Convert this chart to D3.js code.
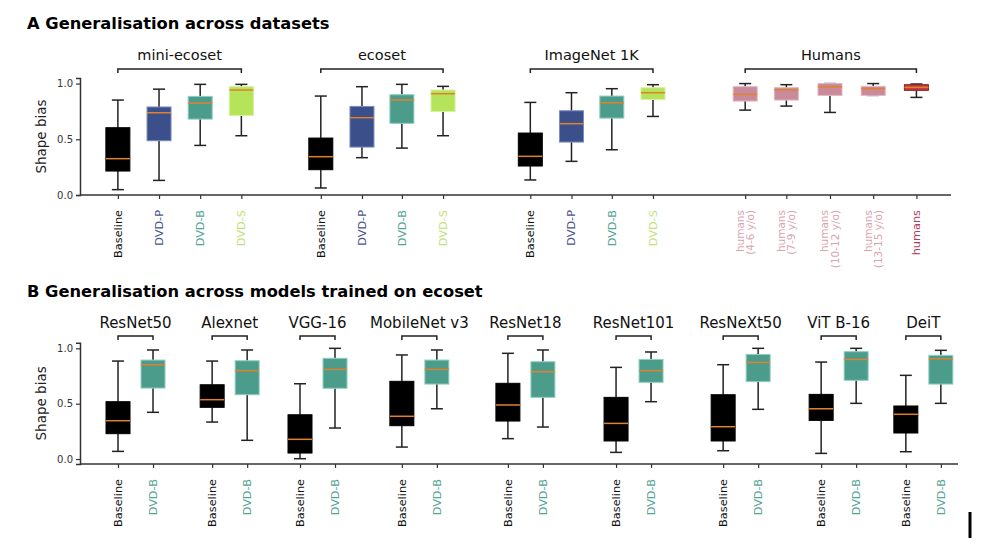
<!DOCTYPE html>
<html>
<head>
<meta charset="utf-8">
<script src="https://cdn.jsdelivr.net/npm/d3@7"></script>
<style>
  body { margin: 0; background: #fff; }
  svg { font-family: 'DejaVu Sans', Verdana, sans-serif; }
</style>
</head>
<body>
<svg id="chart" width="1000" height="550"></svg>
<script>
// ---------- Panel A data ----------
const aLabels = ['Baseline', 'DVD-P', 'DVD-B', 'DVD-S',
  'Baseline', 'DVD-P', 'DVD-B', 'DVD-S',
  'Baseline', 'DVD-P', 'DVD-B', 'DVD-S',
  'humans\n(4-6 y/o)', 'humans\n(7-9 y/o)', 'humans\n(10-12 y/o)', 'humans\n(13-15 y/o)', 'humans'];
const aKind = ['base', 'p', 'b', 's', 'base', 'p', 'b', 's', 'base', 'p', 'b', 's',
  'kid', 'kid', 'kid', 'kid', 'adult'];
// category positions on the x axis
const aPos = [0, 1, 2, 3, 4.93, 5.93, 6.9, 7.9, 10.02, 11.02, 12.0, 13.0, 15.24, 16.24, 17.3, 18.35, 19.4];
const aLow = [0.048, 0.131, 0.445, 0.532, 0.063, 0.335, 0.421, 0.532, 0.135, 0.302, 0.406, 0.705, 0.762, 0.798, 0.741, 0.894, 0.876];
const aQ1 = [0.215, 0.487, 0.681, 0.714, 0.227, 0.43, 0.643, 0.75, 0.26, 0.475, 0.69, 0.858, 0.843, 0.852, 0.894, 0.894, 0.939];
const aMed = [0.326, 0.738, 0.825, 0.942, 0.344, 0.694, 0.852, 0.909, 0.347, 0.64, 0.828, 0.918, 0.903, 0.945, 0.972, 0.954, 0.966];
const aQ3 = [0.604, 0.79, 0.885, 0.972, 0.511, 0.795, 0.9, 0.942, 0.556, 0.756, 0.888, 0.963, 0.972, 0.963, 1.0, 0.975, 0.99];
const aHigh = [0.852, 0.95, 0.993, 0.993, 0.888, 0.972, 0.993, 0.975, 0.831, 0.918, 0.954, 0.99, 1.0, 0.99, 1.0, 1.0, 0.996];
const aGroups = ['mini-ecoset', 'ecoset', 'ImageNet 1K', 'Humans'];
const aGroupSpan = [[0, 3], [4, 7], [8, 11], [12, 16]];

// ---------- Panel B data ----------
const bModels = ['ResNet50', 'Alexnet', 'VGG-16', 'MobileNet v3', 'ResNet18', 'ResNet101', 'ResNeXt50', 'ViT B-16', 'DeiT'];
const bGroupPos = [0, 2.69, 5.2, 8.11, 11.14, 14.23, 17.29, 20.09, 22.51];
const bLabels = ['Baseline', 'DVD-B'];
// baseline stats per model
const bBaseLow = [0.069, 0.334, 0.003, 0.108, 0.184, 0.06, 0.075, 0.051, 0.066];
const bBaseQ1 = [0.229, 0.467, 0.054, 0.301, 0.343, 0.163, 0.163, 0.349, 0.235];
const bBaseMed = [0.346, 0.536, 0.178, 0.386, 0.488, 0.322, 0.292, 0.454, 0.404];
const bBaseQ3 = [0.518, 0.671, 0.4, 0.702, 0.684, 0.557, 0.581, 0.584, 0.479];
const bBaseHigh = [0.885, 0.885, 0.68, 0.94, 0.955, 0.828, 0.852, 0.876, 0.756];
// DVD-B stats per model
const bDvdLow = [0.422, 0.169, 0.28, 0.454, 0.289, 0.518, 0.449, 0.503, 0.503];
const bDvdQ1 = [0.641, 0.581, 0.639, 0.677, 0.557, 0.693, 0.699, 0.711, 0.677];
const bDvdMed = [0.852, 0.798, 0.81, 0.81, 0.789, 0.798, 0.873, 0.9, 0.906];
const bDvdQ3 = [0.894, 0.888, 0.91, 0.894, 0.879, 0.9, 0.945, 0.97, 0.937];
const bDvdHigh = [0.985, 0.985, 1.0, 0.985, 0.985, 0.967, 1.0, 1.0, 0.982];

const yTicks = [0, 0.5, 1.0];

const fillColor = { base: '#000000', p: '#3b4f8a', b: '#4c9c8b', s: '#b5e45a', kid: '#c98a99', adult: '#c03a3e' };
const labelColor = { base: '#111111', p: '#4a5590', b: '#55a596', s: '#c2e37a', kid: '#d9a3b0', adult: '#b53a58' };
const strokeColor = { base: '#000000', p: '#7c8cc0', b: '#8fcfc0', s: '#d6f09a', kid: '#e3b6c0', adult: '#8a2226' };

const svg = d3.select('#chart');

// titles
svg.append('text').attr('x', 27).attr('y', 29)
  .attr('font-size', 16.3).attr('font-weight', 'bold').text('A Generalisation across datasets');
svg.append('text').attr('x', 27).attr('y', 297)
  .attr('font-size', 16.3).attr('font-weight', 'bold').text('B Generalisation across models trained on ecoset');

function drawPanel(p) {
  const g = svg.append('g');
  const x = d3.scaleLinear().domain(p.xDomain).range(p.xRange);
  const y = d3.scaleLinear().domain(p.yDomain).range(p.yRange);
  const boxW = 24;
  const capW = 12;

  // y axis
  const yAxis = g.append('g')
    .attr('transform', `translate(${p.xRange[0]},0)`)
    .call(d3.axisLeft(y).tickValues(yTicks).tickFormat(d3.format('.1f')).tickSize(4).tickPadding(3));
  yAxis.select('.domain').attr('stroke', '#333').attr('stroke-width', 1.5);
  yAxis.selectAll('.tick line').attr('stroke', '#333').attr('stroke-width', 1.2);
  yAxis.selectAll('text').attr('font-size', 10).attr('fill', '#333')
    .attr('font-family', "'DejaVu Sans', Verdana, sans-serif");

  g.append('text')
    .attr('transform', `translate(46,${(p.yRange[0] + p.yRange[1]) / 2}) rotate(-90)`)
    .attr('text-anchor', 'middle').attr('font-size', 13.5).attr('fill', '#222')
    .text('Shape bias');

  // x axis
  const xAxis = g.append('g')
    .attr('transform', `translate(0,${p.yRange[0]})`)
    .call(d3.axisBottom(x).tickValues(p.pos).tickSize(4).tickFormat(''));
  xAxis.select('.domain').attr('stroke', '#333').attr('stroke-width', 1.5)
    .attr('d', `M${p.xRange[0]},0H${p.xRange[1]}`);
  xAxis.selectAll('.tick line').attr('stroke', '#333').attr('stroke-width', 1.2);

  // rotated tick labels
  p.pos.forEach((v, i) => {
    const lines = p.labels[i].split('\n');
    const t = g.append('text')
      .attr('transform', `translate(${x(v)},${p.yRange[0] + 15}) rotate(-90)`)
      .attr('text-anchor', 'end')
      .attr('font-size', lines.length > 1 ? 10.5 : 11.3)
      .attr('fill', labelColor[p.kind[i]]);
    lines.forEach((ln, j) => {
      t.append('tspan').attr('x', 0)
        .attr('y', (j - (lines.length - 1) / 2) * 10.5)
        .attr('dy', '0.35em').text(ln);
    });
  });

  // boxes
  p.pos.forEach((v, i) => {
    const cx = x(v);
    const k = p.kind[i];
    const wc = '#222';
    g.append('line').attr('x1', cx).attr('x2', cx)
      .attr('y1', y(p.high[i])).attr('y2', y(p.q3[i])).attr('stroke', wc).attr('stroke-width', 1.5);
    g.append('line').attr('x1', cx).attr('x2', cx)
      .attr('y1', y(p.q1[i])).attr('y2', y(p.low[i])).attr('stroke', wc).attr('stroke-width', 1.5);
    g.append('line').attr('x1', cx - capW / 2).attr('x2', cx + capW / 2)
      .attr('y1', y(p.high[i])).attr('y2', y(p.high[i])).attr('stroke', wc).attr('stroke-width', 1.5);
    g.append('line').attr('x1', cx - capW / 2).attr('x2', cx + capW / 2)
      .attr('y1', y(p.low[i])).attr('y2', y(p.low[i])).attr('stroke', wc).attr('stroke-width', 1.5);
    g.append('rect')
      .attr('x', cx - boxW / 2).attr('width', boxW)
      .attr('y', y(p.q3[i])).attr('height', Math.max(1, y(p.q1[i]) - y(p.q3[i])))
      .attr('fill', fillColor[k]).attr('stroke', strokeColor[k]).attr('stroke-width', 1);
    g.append('line').attr('x1', cx - boxW / 2).attr('x2', cx + boxW / 2)
      .attr('y1', y(p.med[i])).attr('y2', y(p.med[i]))
      .attr('stroke', '#e0812e').attr('stroke-width', 1.5);
  });

  // group labels with brackets
  p.groups.forEach((name, gi) => {
    const x0 = x(p.pos[p.span[gi][0]]);
    const x1 = x(p.pos[p.span[gi][1]]);
    g.append('path')
      .attr('d', `M${x0},${p.bracketY + 4}V${p.bracketY}H${x1}V${p.bracketY + 4}`)
      .attr('fill', 'none').attr('stroke', '#222').attr('stroke-width', 1.5);
    g.append('text').attr('x', (x0 + x1) / 2).attr('y', p.groupY)
      .attr('text-anchor', 'middle').attr('font-size', p.groupFont).attr('fill', '#111')
      .text(name);
  });
}

drawPanel({
  xDomain: [-0.92, 20.24], xRange: [80, 951],
  yDomain: [0, 1.05], yRange: [195, 78],
  pos: aPos, labels: aLabels, kind: aKind,
  low: aLow, q1: aQ1, med: aMed, q3: aQ3, high: aHigh,
  groups: aGroups, span: aGroupSpan, bracketY: 69, groupY: 60, groupFont: 14.5
});

// flatten panel B pairs (baseline then DVD-B per model)
const bPos = [], bLab = [], bKind = [], bLow = [], bQ1 = [], bMed = [], bQ3 = [], bHigh = [], bSpan = [];
bModels.forEach((m, i) => {
  bSpan.push([bPos.length, bPos.length + 1]);
  bPos.push(bGroupPos[i], bGroupPos[i] + 1);
  bLab.push(bLabels[0], bLabels[1]);
  bKind.push('base', 'b');
  bLow.push(bBaseLow[i], bDvdLow[i]);
  bQ1.push(bBaseQ1[i], bDvdQ1[i]);
  bMed.push(bBaseMed[i], bDvdMed[i]);
  bQ3.push(bBaseQ3[i], bDvdQ3[i]);
  bHigh.push(bBaseHigh[i], bDvdHigh[i]);
});

drawPanel({
  xDomain: [-1.086, 24.0], xRange: [80, 958],
  yDomain: [-0.045, 1.05], yRange: [464, 342.8],
  pos: bPos, labels: bLab, kind: bKind,
  low: bLow, q1: bQ1, med: bMed, q3: bQ3, high: bHigh,
  groups: bModels, span: bSpan, bracketY: 336, groupY: 328, groupFont: 15
});

// stray mark at the bottom right of the figure
svg.append('line').attr('x1', 970).attr('x2', 970).attr('y1', 512).attr('y2', 538)
  .attr('stroke', '#000').attr('stroke-width', 3);
</script>
</body>
</html>
